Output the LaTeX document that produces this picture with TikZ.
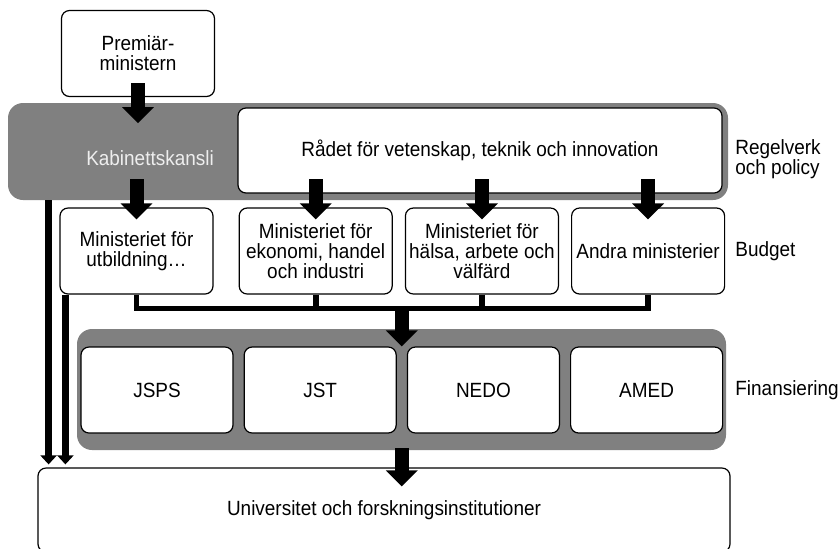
\documentclass[tikz,border=0pt]{standalone}
\usepackage{fontspec}
\setmainfont[FakeStretch=0.92]{Liberation Sans}
\usetikzlibrary{positioning,calc,arrows.meta}
\definecolor{bandgray}{RGB}{128,128,128}
\definecolor{kabtext}{RGB}{238,238,238}

\begin{document}
\begin{tikzpicture}[x=0.5pt, y=-0.5pt, every node/.style={font=\fontsize{10.3}{10}\selectfont}, node distance=6pt]
  \tikzstyle{unit}=[draw, line width=0.6pt, rounded corners=4pt, fill=white, align=center, inner sep=0.5pt, minimum width=76.5pt, minimum height=43pt]
  \tikzstyle{band}=[fill=bandgray, rounded corners=7.5pt, inner sep=0pt]
  \tikzstyle{flow}=[line width=7pt, -{Triangle[width=15.5pt,length=8pt]}]
  \tikzstyle{side}=[line width=3.2pt, -{Triangle[width=8pt,length=4.5pt]}]
  \tikzstyle{bus}=[line width=2.8pt]
  \tikzstyle{level}=[anchor=west, align=left, inner sep=0pt]
  \useasboundingbox (0,0) rectangle (839,548);

  \node[unit] (pm) at (138,53.5) {Premiär-\\ministern};
  \node[band, minimum width=360pt, minimum height=48.5pt] (reg) at (368,151.5) {};
  \node[unit, minimum width=242pt, minimum height=42.5pt] (radet) at (480,150.5) {Rådet för vetenskap, teknik och innovation};
  \node[text=kabtext] (kab) at (150,158) {Kabinettskansli};
  \node[level] (lpol) at (735,159) {Regelverk\\och policy};

  \node[unit] (m1) at (136.5,251) {Ministeriet för\\utbildning…};
  \node[unit, right=12.5pt of m1] (m2) {Ministeriet för\\ekonomi, handel\\och industri};
  \node[unit, right=of m2] (m3) {Ministeriet för\\hälsa, arbete och\\välfärd};
  \node[unit, right=of m3] (m4) {Andra ministerier};
  \node[level] (lbud) at (735,251) {Budget};

  \node[band, minimum width=324.5pt, minimum height=60.5pt] (fund) at (401.5,389.5) {};
  \node[unit, minimum width=76pt] (f1) at (157,390) {JSPS};
  \node[unit, minimum width=76pt, right=5pt of f1] (f2) {JST};
  \node[unit, minimum width=76pt, right=5pt of f2] (f3) {NEDO};
  \node[unit, minimum width=76pt, right=5pt of f3] (f4) {AMED};
  \node[level] (lfin) at (735,390) {Finansiering};

  \node[draw, line width=0.6pt, rounded corners=4pt, minimum width=346pt, minimum height=42pt] (uni) at (384,510) {Universitet och forskningsinstitutioner};

  \draw[flow] ([yshift=7pt]pm.south) -- ([yshift=-13pt]pm.south);
  \foreach \m in {m1,m2,m3,m4}
    \draw[flow] ([yshift=14pt]\m.north) -- ([yshift=-6pt]\m.north);

  \draw[bus] (m1.south) -- ++(0,-7pt) -| (m4.south);
  \draw[bus] (m2.south) -- ++(0,-7pt);
  \draw[bus] (m3.south) -- ++(0,-7pt);

  \coordinate (fm) at ($(f2.north east)!0.5!(f3.north west)$);
  \draw[flow] ([yshift=19.5pt]fm) -- (fm);
  \draw[flow] ($(fm |- fund.south)+(0,1pt)$) -- ($(fm |- uni.north)+(0,-9.5pt)$);

  \coordinate (sa) at ([xshift=20.5pt]reg.south west);
  \coordinate (sb) at ([xshift=3pt]m1.south west);
  \draw[side] (sa) -- ($(sa |- uni.north)+(0,1.5pt)$);
  \draw[side] (sb) -- ($(sb |- uni.north)+(0,1.5pt)$);
\end{tikzpicture}
\end{document}
